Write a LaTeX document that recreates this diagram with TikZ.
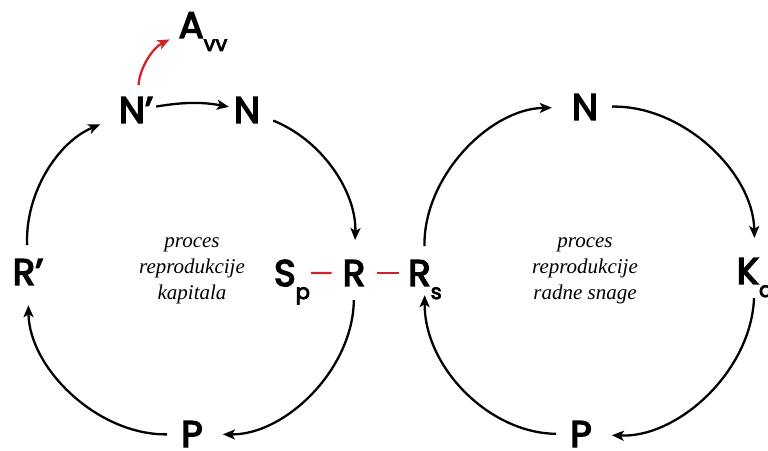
\documentclass[tikz,border=0pt]{standalone}
\usepackage{fontspec}
\usepackage{tikz}
\usetikzlibrary{arrows.meta}

\newfontfamily\letterfont{Poppins}[FakeBold=4]
\newfontfamily\notefont{Liberation Serif}
\definecolor{linkred}{RGB}{206,36,42}
\newcommand{\lowsub}[1]{\raisebox{-13pt}[0pt][0pt]{\fontsize{21}{21}\selectfont #1}}

\begin{document}
\begin{tikzpicture}[x=1pt, y=1pt, >={Stealth[length=12pt, width=10pt, inset=3pt]},
    letter/.style={inner sep=0pt, anchor=base, font=\letterfont\fontsize{37}{37}\selectfont},
    flow/.style={->, line width=2.3pt, shorten <=14pt, shorten >=20pt},
    link/.style={line width=2.3pt, linkred},
    note/.style={align=center, font=\notefont\itshape\fontsize{21}{26}\selectfont}]
    \useasboundingbox (0,0) rectangle (768,450);

    % Lijevi krug: reprodukcija kapitala
    \node[letter] (Rp) at (28,165) {R’};
    \node[letter] (Np) at (136,327) {N’};
    \node[letter] (N) at (247,327) {N};
    \node[letter] (R) at (354,164) {R};
    \node[letter] (P) at (192,3) {P};
    \node[letter] (Sp) at (292,164) {S\lowsub{p}};
    \node[letter] (Avv) at (203,412) {A\lowsub{vv}};
    \node[note] (tekst1) at (192,179) {proces\\reprodukcije\\kapitala};

    \draw[flow] (Rp) to[bend left=35] (Np);
    \draw[flow, shorten <=3pt, shorten >=5pt] (Np) to[bend left=10] (N);
    \draw[flow] (N) to[bend left=35] (R);
    \draw[flow] (R) to[bend left=45] (P);
    \draw[flow] (P) to[bend left=45] (Rp);

    % Akumulacija viska vrijednosti
    \draw[flow, linkred, shorten <=12pt, shorten >=10pt] (Np) to[bend left=30] (Avv);

    % Desni krug: reprodukcija radne snage
    \node[letter] (Rs) at (425,164) {R\lowsub{s}};
    \node[letter] (N2) at (585,330) {N};
    \node[letter] (Ka) at (755,166) {K\lowsub{a}};
    \node[letter] (P2) at (581,3) {P};
    \node[note] (tekst2) at (585,179) {proces\\reprodukcije\\radne snage};

    \draw[flow] (Rs) to[bend left=45] (N2);
    \draw[flow] (N2) to[bend left=45] (Ka);
    \draw[flow] (Ka) to[bend left=45] (P2);
    \draw[flow, shorten >=9pt] (P2) to[bend left=45] (Rs);

    % Veze kroz R
    \draw[link, shorten <=1pt, shorten >=11pt] (Sp) -- (R);
    \draw[link, shorten <=12pt, shorten >=9pt] (R) -- (Rs);
\end{tikzpicture}
\end{document}
